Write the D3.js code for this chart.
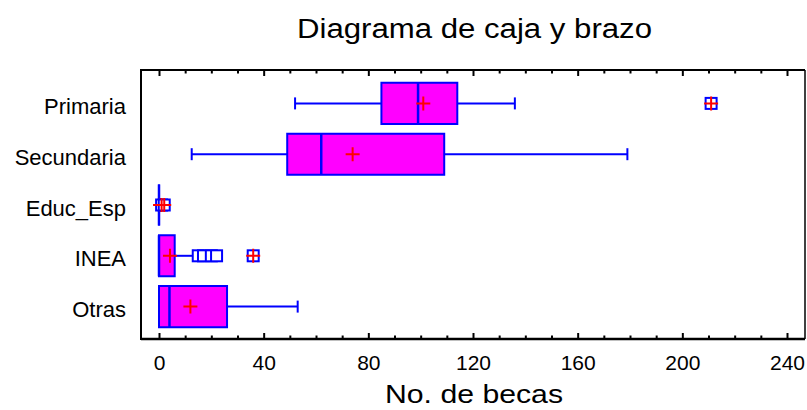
<!DOCTYPE html>
<html>
<head>
<meta charset="utf-8">
<script src="https://cdn.jsdelivr.net/npm/d3@7"></script>
<style>
  html, body { margin: 0; padding: 0; background: #fff; }
  svg { display: block; font-family: "Liberation Sans", Arial, sans-serif; }
</style>
</head>
<body>
<svg id="chart" width="807" height="410"></svg>
<script>
// ---- data ----
const categories   = ["Primaria", "Secundaria", "Educ_Esp", "INEA", "Otras"];
const whiskerLow   = [52, 12.5, 0, 0, 0];
const q1Values     = [85, 49, 0, 0, 0];
const medianValues = [99, 62, 0, 0, 4];
const q3Values     = [114, 109, 0, 6, 26];
const whiskerHigh  = [136, 179, 0, 13, 53];
const meanValues   = [101, 74, 0.4, 4.2, 12];
const outsidePts   = [[], [], [], [15, 17, 20, 22], []];
const farOutsidePts = [[211], [], [1, 2], [36], []];
const xTickValues  = [0, 40, 80, 120, 160, 200, 240];
const titleText = "Diagrama de caja y brazo";
const xTitleText = "No. de becas";

// ---- layout ----
const frame = { left: 141, right: 805, top: 70, bottom: 339 };
const svg = d3.select("#chart");

const x = d3.scaleLinear().domain([0, 240]).range([159, 787]);
const y = d3.scaleBand().domain(categories).range([78, 332]).paddingInner(0).paddingOuter(0);
const boxH = y.bandwidth() * 0.81;
const capH = 12;
const cross = 7;
const sq = 11;

const blue = "#0000FF", magenta = "#FF00FF", red = "#FF0000";

// frame
const fr = svg.append("g");
fr.append("line").attr("x1", frame.left).attr("x2", frame.right).attr("y1", frame.top).attr("y2", frame.top)
  .attr("stroke", "#000").attr("stroke-width", 2);
fr.append("line").attr("x1", frame.left).attr("x2", frame.right).attr("y1", frame.bottom).attr("y2", frame.bottom)
  .attr("stroke", "#000").attr("stroke-width", 2.5);
fr.append("line").attr("x1", frame.left).attr("x2", frame.left).attr("y1", frame.top - 1).attr("y2", frame.bottom + 1)
  .attr("stroke", "#000").attr("stroke-width", 2);
fr.append("line").attr("x1", frame.right).attr("x2", frame.right).attr("y1", frame.top).attr("y2", frame.bottom)
  .attr("stroke", "#000").attr("stroke-width", 1.5);

// axes: bottom major (labels) + minor, top major + minor, all ticks inward
const minorTicks = d3.range(0, 241, 10).filter(v => v % 40 !== 0);
const bottomAxis = svg.append("g").attr("transform", `translate(0,${frame.bottom})`)
  .call(d3.axisBottom(x).tickValues(xTickValues).tickSize(-6).tickPadding(16).tickFormat(d3.format("d")));
const bottomMinor = svg.append("g").attr("transform", `translate(0,${frame.bottom})`)
  .call(d3.axisBottom(x).tickValues(minorTicks).tickSize(-3.5).tickFormat(""));
const topAxis = svg.append("g").attr("transform", `translate(0,${frame.top})`)
  .call(d3.axisTop(x).tickValues(xTickValues).tickSize(-6).tickFormat(""));
const topMinor = svg.append("g").attr("transform", `translate(0,${frame.top})`)
  .call(d3.axisTop(x).tickValues(minorTicks).tickSize(-3.5).tickFormat(""));
[bottomAxis, bottomMinor, topAxis, topMinor].forEach(g => {
  g.select(".domain").remove();
  g.selectAll(".tick line").attr("stroke", "#000").attr("stroke-width", 2);
});
bottomAxis.selectAll(".tick text")
  .attr("fill", "#000").style("font-size", "21px").style("font-family", "'Liberation Sans', Arial, sans-serif");

// category axis
const leftAxis = svg.append("g").attr("transform", `translate(${frame.left},0)`)
  .call(d3.axisLeft(y).tickSize(0).tickPadding(15));
leftAxis.select(".domain").remove();
leftAxis.selectAll(".tick text")
  .attr("fill", "#000").attr("dy", "10.5px")
  .style("font-size", "22px").style("font-family", "'Liberation Sans', Arial, sans-serif");

// boxes
const rows = categories.map((c, i) => ({
  cat: c, lo: whiskerLow[i], q1: q1Values[i], med: medianValues[i], q3: q3Values[i],
  hi: whiskerHigh[i], mean: meanValues[i], out: outsidePts[i], far: farOutsidePts[i]
}));

const g = svg.append("g");
rows.forEach(r => {
  const cy = y(r.cat) + y.bandwidth() / 2;
  const gg = g.append("g");
  // whiskers
  gg.append("line").attr("x1", x(r.lo)).attr("x2", x(r.q1)).attr("y1", cy).attr("y2", cy)
    .attr("stroke", blue).attr("stroke-width", 2);
  gg.append("line").attr("x1", x(r.q3)).attr("x2", x(r.hi)).attr("y1", cy).attr("y2", cy)
    .attr("stroke", blue).attr("stroke-width", 2);
  [r.lo, r.hi].forEach(v => {
    gg.append("line").attr("x1", x(v)).attr("x2", x(v)).attr("y1", cy - capH / 2).attr("y2", cy + capH / 2)
      .attr("stroke", blue).attr("stroke-width", 2);
  });
  // box
  const x1 = x(r.q1), x2 = x(r.q3), y0 = cy - boxH / 2, y1 = cy + boxH / 2;
  gg.append("path").attr("d", `M${x1},${y0}H${x2}V${y1}H${x1}Z`)
    .attr("fill", magenta).attr("stroke", blue).attr("stroke-width", 2);
  // median
  gg.append("line").attr("x1", x(r.med)).attr("x2", x(r.med)).attr("y1", y0).attr("y2", y1)
    .attr("stroke", blue).attr("stroke-width", 2.5);
  // mean
  const mx = x(r.mean);
  gg.append("path").attr("d", `M${mx - cross},${cy}H${mx + cross}M${mx},${cy - cross}V${cy + cross}`)
    .attr("stroke", red).attr("stroke-width", 2).attr("fill", "none");
  // outside points
  r.out.concat(r.far).forEach(v => {
    gg.append("rect").attr("x", x(v) - sq / 2).attr("y", cy - sq / 2).attr("width", sq).attr("height", sq)
      .attr("fill", "#fff").attr("stroke", blue).attr("stroke-width", 2);
  });
  r.far.forEach(v => {
    const px = x(v);
    gg.append("path").attr("d", `M${px - cross},${cy}H${px + cross}M${px},${cy - cross}V${cy + cross}`)
      .attr("stroke", red).attr("stroke-width", 2).attr("fill", "none");
  });
});

// titles
svg.append("text").attr("x", 297).attr("y", 38)
  .attr("textLength", 355).attr("lengthAdjust", "spacingAndGlyphs")
  .style("font-size", "27px").attr("fill", "#000").text(titleText);
svg.append("text").attr("x", 385).attr("y", 403)
  .attr("textLength", 178).attr("lengthAdjust", "spacingAndGlyphs")
  .style("font-size", "25px").attr("fill", "#000").text(xTitleText);
</script>
</body>
</html>
